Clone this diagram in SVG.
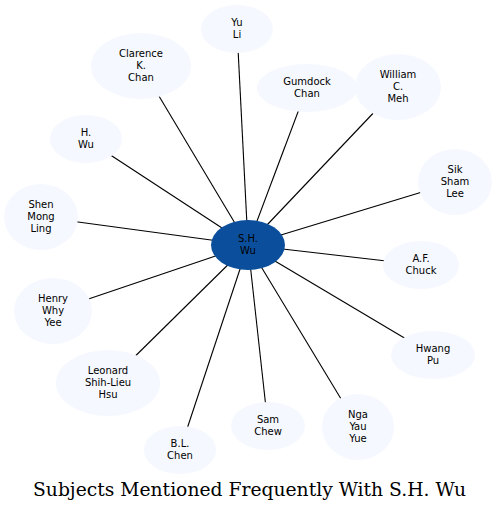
<svg xmlns="http://www.w3.org/2000/svg" width="499" height="511" viewBox="0 0 499 511">
<style>
.n ellipse{fill:#f5f8fe;stroke:none}
.n text{font-family:"DejaVu Sans",sans-serif;font-size:10px;fill:#000;text-anchor:middle}
#edges line{stroke:#000;stroke-width:1.1}
.title{font-family:"DejaVu Serif",serif;font-size:18px;fill:#000;text-anchor:middle}
</style>
<rect width="499" height="511" fill="#fff"/>
<g id="edges">
<line x1="248" y1="245" x2="237" y2="29"/>
<line x1="248" y1="245" x2="141" y2="66"/>
<line x1="248" y1="245" x2="307" y2="88"/>
<line x1="248" y1="245" x2="398" y2="87"/>
<line x1="248" y1="245" x2="86" y2="139"/>
<line x1="248" y1="245" x2="455" y2="182"/>
<line x1="248" y1="245" x2="41" y2="217"/>
<line x1="248" y1="245" x2="421" y2="265"/>
<line x1="248" y1="245" x2="53" y2="311"/>
<line x1="248" y1="245" x2="433" y2="355"/>
<line x1="248" y1="245" x2="108" y2="383"/>
<line x1="248" y1="245" x2="358" y2="427"/>
<line x1="248" y1="245" x2="268" y2="426"/>
<line x1="248" y1="245" x2="180" y2="450"/>
</g>
<g id="yuli" class="n"><ellipse cx="237" cy="29" rx="36" ry="24"/><text x="237" y="26">Yu</text><text x="237" y="38">Li</text></g>
<g id="clarence" class="n"><ellipse cx="141" cy="66" rx="50" ry="33"/><text x="141" y="57">Clarence</text><text x="141" y="69">K.</text><text x="141" y="81">Chan</text></g>
<g id="gumdock" class="n"><ellipse cx="307" cy="88" rx="50" ry="24"/><text x="307" y="85">Gumdock</text><text x="307" y="97">Chan</text></g>
<g id="william" class="n"><ellipse cx="398" cy="87" rx="43" ry="33"/><text x="398" y="78">William</text><text x="398" y="90">C.</text><text x="398" y="102">Meh</text></g>
<g id="hwu" class="n"><ellipse cx="86" cy="139" rx="36" ry="24"/><text x="86" y="136">H.</text><text x="86" y="148">Wu</text></g>
<g id="sik" class="n"><ellipse cx="455" cy="182" rx="37" ry="33"/><text x="455" y="173">Sik</text><text x="455" y="185">Sham</text><text x="455" y="197">Lee</text></g>
<g id="shen" class="n"><ellipse cx="41" cy="217" rx="37" ry="33"/><text x="41" y="208">Shen</text><text x="41" y="220">Mong</text><text x="41" y="232">Ling</text></g>
<g id="af" class="n"><ellipse cx="421" cy="265" rx="38" ry="24"/><text x="421" y="262">A.F.</text><text x="421" y="274">Chuck</text></g>
<g id="henry" class="n"><ellipse cx="53" cy="311" rx="39" ry="33"/><text x="53" y="302">Henry</text><text x="53" y="314">Why</text><text x="53" y="326">Yee</text></g>
<g id="hwang" class="n"><ellipse cx="433" cy="355" rx="42" ry="24"/><text x="433" y="352">Hwang</text><text x="433" y="364">Pu</text></g>
<g id="leonard" class="n"><ellipse cx="108" cy="383" rx="52" ry="33"/><text x="108" y="374">Leonard</text><text x="108" y="386">Shih-Lieu</text><text x="108" y="398">Hsu</text></g>
<g id="nga" class="n"><ellipse cx="358" cy="427" rx="36" ry="33"/><text x="358" y="418">Nga</text><text x="358" y="430">Yau</text><text x="358" y="442">Yue</text></g>
<g id="sam" class="n"><ellipse cx="268" cy="426" rx="37" ry="24"/><text x="268" y="423">Sam</text><text x="268" y="435">Chew</text></g>
<g id="blchen" class="n"><ellipse cx="180" cy="450" rx="36" ry="24"/><text x="180" y="447">B.L.</text><text x="180" y="459">Chen</text></g>
<g id="shwu" class="n"><ellipse cx="248" cy="245" rx="37" ry="25" style="fill:#0b4f9c"/><text x="248" y="242">S.H.</text><text x="248" y="254">Wu</text></g>
<text class="title" x="249.5" y="496" textLength="433" lengthAdjust="spacingAndGlyphs">Subjects Mentioned Frequently With S.H. Wu</text>
</svg>
